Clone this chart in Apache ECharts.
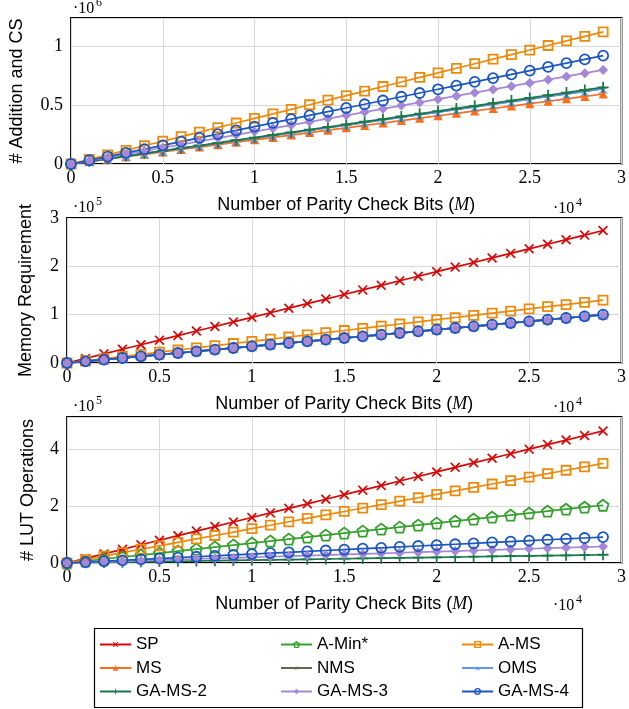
<!DOCTYPE html>
<html>
<head>
<meta charset="utf-8">
<script src="https://cdn.jsdelivr.net/npm/echarts@6/dist/echarts.min.js"></script>
<style>
html,body{margin:0;padding:0;background:#fff;}
#chart{width:629px;height:709px;}
</style>
</head>
<body>
<div id="chart"></div>
<script>
// ---------- data ----------
const xBits = [0,1000,2000,3000,4000,5000,6000,7000,8000,9000,10000,11000,12000,13000,14000,15000,16000,17000,18000,19000,20000,21000,22000,23000,24000,25000,26000,27000,28000,29000];
const xTicks = ['0','0.5','1','1.5','2','2.5','3'];

// Plot 1: # Addition and CS
const addAMS = [0,38620,77240,115860,154480,193100,231720,270340,308960,347580,386200,424820,463440,502060,540680,579300,617920,656540,695160,733780,772400,811020,849640,888260,926880,965500,1004120,1042740,1081360,1119980];
const addMS = [0,20450,40900,61350,81800,102250,122700,143150,163600,184050,204500,224950,245400,265850,286300,306750,327200,347650,368100,388550,409000,429450,449900,470350,490800,511250,531700,552150,572600,593050];
const addNMS = [0,22000,44000,66000,88000,110000,132000,154000,176000,198000,220000,242000,264000,286000,308000,330000,352000,374000,396000,418000,440000,462000,484000,506000,528000,550000,572000,594000,616000,638000];
const addOMS = [0,22000,44000,66000,88000,110000,132000,154000,176000,198000,220000,242000,264000,286000,308000,330000,352000,374000,396000,418000,440000,462000,484000,506000,528000,550000,572000,594000,616000,638000];
const addGA2 = [0,22410,44820,67230,89640,112050,134460,156870,179280,201690,224100,246510,268920,291330,313740,336150,358560,380970,403380,425790,448200,470610,493020,515430,537840,560250,582660,605070,627480,649890];
const addGA3 = [0,27480,54960,82440,109920,137400,164880,192360,219840,247320,274800,302280,329760,357240,384720,412200,439680,467160,494640,522120,549600,577080,604560,632040,659520,687000,714480,741960,769440,796920];
const addGA4 = [0,31650,63300,94950,126600,158250,189900,221550,253200,284850,316500,348150,379800,411450,443100,474750,506400,538050,569700,601350,633000,664650,696300,727950,759600,791250,822900,854550,886200,917850];

// Plot 2: Memory Requirement
const memSP = [0,9450,18900,28350,37800,47250,56700,66150,75600,85050,94500,103950,113400,122850,132300,141750,151200,160650,170100,179550,189000,198450,207900,217350,226800,236250,245700,255150,264600,274050];
const memAMS = [0,4480,8960,13440,17920,22400,26880,31360,35840,40320,44800,49280,53760,58240,62720,67200,71680,76160,80640,85120,89600,94080,98560,103040,107520,112000,116480,120960,125440,129920];
const memOthers = [0,3450,6900,10350,13800,17250,20700,24150,27600,31050,34500,37950,41400,44850,48300,51750,55200,58650,62100,65550,69000,72450,75900,79350,82800,86250,89700,93150,96600,100050];

// Plot 3: # LUT Operations
const lutSP = [0,16000,32000,48000,64000,80000,96000,112000,128000,144000,160000,176000,192000,208000,224000,240000,256000,272000,288000,304000,320000,336000,352000,368000,384000,400000,416000,432000,448000,464000];
const lutAMS = [0,12070,24140,36210,48280,60350,72420,84490,96560,108630,120700,132770,144840,156910,168980,181050,193120,205190,217260,229330,241400,253470,265540,277610,289680,301750,313820,325890,337960,350030];
const lutAMin = [0,7000,14000,21000,28000,35000,42000,49000,56000,63000,70000,77000,84000,91000,98000,105000,112000,119000,126000,133000,140000,147000,154000,161000,168000,175000,182000,189000,196000,203000];
const lutGA4 = [0,3140,6280,9420,12560,15700,18840,21980,25120,28260,31400,34540,37680,40820,43960,47100,50240,53380,56520,59660,62800,65940,69080,72220,75360,78500,81640,84780,87920,91060];
const lutGA3 = [0,2000,4000,6000,8000,10000,12000,14000,16000,18000,20000,22000,24000,26000,28000,30000,32000,34000,36000,38000,40000,42000,44000,46000,48000,50000,52000,54000,56000,58000];
const lutGA2 = [0,1000,2000,3000,4000,5000,6000,7000,8000,9000,10000,11000,12000,13000,14000,15000,16000,17000,18000,19000,20000,21000,22000,23000,24000,25000,26000,27000,28000,29000];

// ---------- styles ----------
function starPath(arms, outer, inner, rot){
  const n = arms*2, pts=[];
  for(let k=0;k<n;k++){
    const r = k%2===0?outer:inner;
    const a = (rot + k*180/arms)*Math.PI/180;
    pts.push((5+r*Math.cos(a)).toFixed(3)+','+(5+r*Math.sin(a)).toFixed(3));
  }
  return 'path://M'+pts.join(' L')+' Z';
}
const SYM = {
  cross: 'path://M1.2,0 L5,3.8 L8.8,0 L10,1.2 L6.2,5 L10,8.8 L8.8,10 L5,6.2 L1.2,10 L0,8.8 L3.8,5 L0,1.2 Z',
  plus: 'path://M4.2,0 L5.8,0 L5.8,4.2 L10,4.2 L10,5.8 L5.8,5.8 L5.8,10 L4.2,10 L4.2,5.8 L0,5.8 L0,4.2 L4.2,4.2 Z',
  pent: 'path://M5,0 L9.755,3.455 L7.939,9.045 L2.061,9.045 L0.245,3.455 Z',
  star5: starPath(5,5,0.9,-90),
  star3: starPath(3,5,0.9,-90)
};
const STYLE = {
  'SP':       {color:'#d40a0a', symbol:SYM.cross, size:10, hollow:false},
  'A-Min*':   {color:'#36a02e', symbol:SYM.pent,  size:11, hollow:true},
  'A-MS':     {color:'#ec8a0c', symbol:'rect',    size:9,  hollow:true},
  'MS':       {color:'#ff6d1a', symbol:'triangle',size:9,  hollow:false},
  'NMS':      {color:'#66664e', symbol:SYM.star5, size:11, hollow:false},
  'OMS':      {color:'#6196f2', symbol:SYM.star3, size:11, hollow:false},
  'GA-MS-2':  {color:'#17794a', symbol:SYM.plus,  size:11, hollow:false},
  'GA-MS-3':  {color:'#a488d6', symbol:'diamond', size:10, hollow:false},
  'GA-MS-4':  {color:'#1a55c2', symbol:'circle',  size:10, hollow:true}
};
function mk(name, gi, arr){
  const s = STYLE[name];
  return {
    name, type:'line', xAxisIndex:gi, yAxisIndex:gi,
    data: xBits.map((x,i)=>[x, arr[i]]),
    symbol: s.symbol, symbolSize: s.size, showAllSymbol:true,
    lineStyle:{color:s.color, width:1.7},
    itemStyle: s.hollow ? {color:'rgba(255,255,255,0)', borderColor:s.color, borderWidth:1.8}
                        : {color:s.color, borderWidth:0},
    emphasis:{disabled:true}, animation:false, clip:true
  };
}

const series = [
  mk('A-MS',0,addAMS), mk('MS',0,addMS), mk('NMS',0,addNMS), mk('OMS',0,addOMS),
  mk('GA-MS-2',0,addGA2), mk('GA-MS-3',0,addGA3), mk('GA-MS-4',0,addGA4),
  mk('SP',1,memSP), mk('A-MS',1,memAMS), mk('MS',1,memOthers), mk('NMS',1,memOthers), mk('OMS',1,memOthers),
  mk('GA-MS-2',1,memOthers), mk('GA-MS-3',1,memOthers), mk('GA-MS-4',1,memOthers),
  mk('SP',2,lutSP), mk('A-Min*',2,lutAMin), mk('A-MS',2,lutAMS),
  mk('GA-MS-2',2,lutGA2), mk('GA-MS-3',2,lutGA3), mk('GA-MS-4',2,lutGA4)
];

// ---------- layout ----------
const grids = [
  {left:67, top:18, width:559, height:146},
  {left:67, top:218, width:559, height:145},
  {left:67, top:417, width:559, height:146}
].map(g=>Object.assign(g,{show:true, borderColor:'#000', borderWidth:1.8, containLabel:false}));

const SERIF = 'Liberation Serif';
const SANS = 'Liberation Sans';
const gridLine = {show:true, lineStyle:{color:'#d8d8d8', width:1}};

const xAxes = [0,1,2].map(i=>({
  type:'value', gridIndex:i, min:0, max:30000, interval:5000,
  axisLine:{show:false}, axisTick:{show:false}, splitLine:gridLine,
  axisLabel:{color:'#000', fontFamily:SERIF, fontSize:18, margin:5,
    formatter:v=>xTicks[Math.round(v/5000)]},
  name:'{s|Number of Parity Check Bits (}{i|M}{s|)}',
  nameLocation:'middle', nameGap:32,
  nameTextStyle:{rich:{
    s:{fontFamily:SANS, fontSize:18, color:'#000'},
    i:{fontFamily:SERIF, fontStyle:'italic', fontSize:18, color:'#000'}}}
}));

function yFmt(interval, scale){
  return v => {
    const q = v/interval;
    if (Math.abs(q-Math.round(q))>1e-6) return '';
    return String(+(v/scale).toFixed(2));
  };
}
const yCfg = [
  {max:1237000, interval:500000, scale:1e6, name:'# Addition and CS', gap:45},
  {max:300000, interval:100000, scale:1e5, name:'Memory Requirement', gap:32},
  {max:513000, interval:200000, scale:1e5, name:'# LUT Operations', gap:30}
];
const yAxes = yCfg.map((c,i)=>({
  type:'value', gridIndex:i, min:0, max:c.max, interval:c.interval,
  axisLine:{show:false}, axisTick:{show:false}, splitLine:gridLine,
  axisLabel:{color:'#000', fontFamily:SERIF, fontSize:18, margin:8, formatter:yFmt(c.interval,c.scale)},
  name:c.name, nameLocation:'middle', nameGap:c.gap, nameRotate:90,
  nameTextStyle:{fontFamily:SANS, fontSize:18, color:'#000'}
}));

function sci(left, top, exp){
  return [
    {type:'text', left:left, top:top, style:{text:'·10', fill:'#000', font:'16px "'+SERIF+'"'}},
    {type:'text', left:left+23, top:top-4, style:{text:exp, fill:'#000', font:'12px "'+SERIF+'"'}}
  ];
}
const graphic = [].concat(
  sci(73,1,'6'), sci(73,200,'5'), sci(73,399,'5'),
  sci(553,201,'4'), sci(553,400,'4'), sci(553,598,'4'),
  [{type:'rect', left:92, top:626, shape:{width:488, height:79}, style:{fill:'none', stroke:'#000', lineWidth:1.2}, z:-1}]
);

function leg(left, names){
  return {orient:'vertical', left:left, top:631, itemWidth:31, itemHeight:7, itemGap:6.5,
    padding:5, data:names, selectedMode:false,
    itemStyle:{borderWidth:1.3},
    textStyle:{fontFamily:SANS, fontSize:17, color:'#000', padding:[0,0,0,0]}};
}
const legends = [
  leg(94, ['SP','MS','GA-MS-2']),
  leg(275, ['A-Min*','NMS','GA-MS-3']),
  leg(456, ['A-MS','OMS','GA-MS-4'])
];

const chart = echarts.init(document.getElementById('chart'), null, {renderer:'canvas'});
chart.setOption({
  animation:false, backgroundColor:'#fff',
  grid:grids, xAxis:xAxes, yAxis:yAxes, series:series, legend:legends, graphic:graphic
});
</script>
</body>
</html>
